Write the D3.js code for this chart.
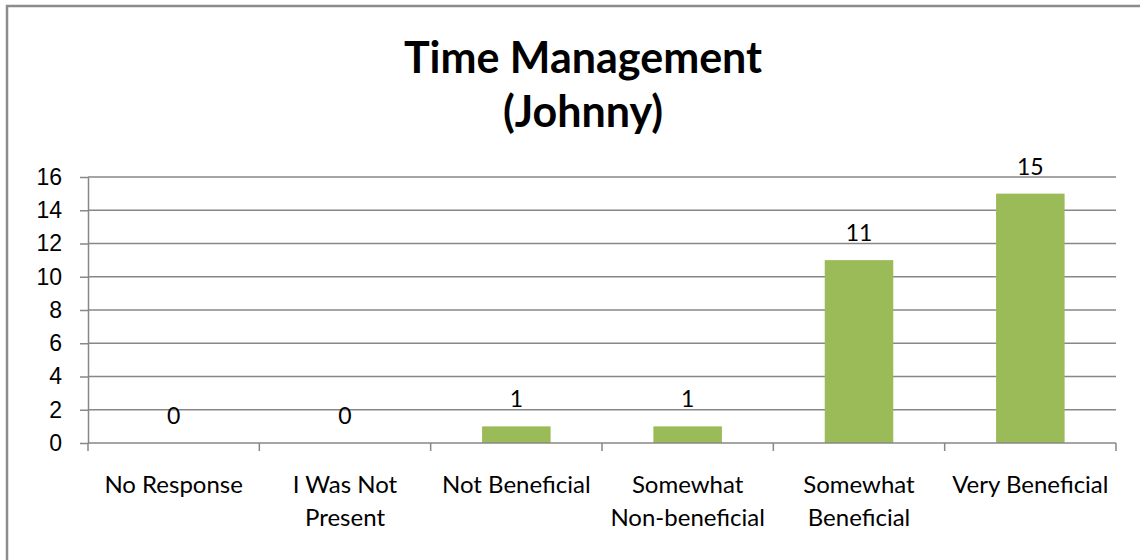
<!DOCTYPE html>
<html lang="en">
<head>
  <meta charset="UTF-8">
  <title>Time Management (Johnny)</title>
  <script src="https://d3js.org/d3.v7.min.js"></script>
  <style>
    body {
      margin: 0;
      background: #fff;
      font-family: Lato, "Noto Sans", sans-serif;
    }
    .grid line {
      stroke: #878787;
      stroke-width: 1.5;
    }
    .axis path, .axis line {
      stroke: #878787;
      stroke-width: 1.5;
    }
    .axis text {
      fill: #000;
    }
    .bar {
      fill: #9bbb59;
    }
  </style>
</head>
<body>
  <svg width="1140" height="560"></svg>

  <script>
    const categories = [
      ["No Response"],
      ["I Was Not", "Present"],
      ["Not Beneficial"],
      ["Somewhat", "Non-beneficial"],
      ["Somewhat", "Beneficial"],
      ["Very Beneficial"]
    ];
    const values = [0, 0, 1, 1, 11, 15];
    const yTicks = [0, 2, 4, 6, 8, 10, 12, 14, 16];
    const titleLines = ["Time Management", "(Johnny)"];

    const svg = d3.select("svg"),
          margin = {top: 177, right: 24, bottom: 117, left: 88},
          width = +svg.attr("width") - margin.left - margin.right,
          height = +svg.attr("height") - margin.top - margin.bottom;

    // outer chart border (only top/left visible, rest cropped)
    svg.append("rect")
      .attr("x", 7).attr("y", 6)
      .attr("width", 1200).attr("height", 600)
      .attr("fill", "none")
      .attr("stroke", "#8c8c8c")
      .attr("stroke-width", 2.5);

    const title = svg.append("text")
      .attr("x", 583)
      .attr("text-anchor", "middle")
      .style("font-family", "Lato, sans-serif")
      .style("font-weight", "bold")
      .style("font-size", "43px");
    titleLines.forEach((t, i) => {
      title.append("tspan").attr("x", 583).attr("y", 73 + i * 54).text(t);
    });

    const chart = svg.append("g").attr("transform", `translate(${margin.left},${margin.top})`);

    const keys = categories.map((c, i) => i);

    const xCat = d3.scaleBand().domain(keys).range([0, width]).padding(0);
    const x = d3.scaleBand().domain(keys).range([0, width])
      .paddingInner(0.6).paddingOuter(0.3);

    const y = d3.scaleLinear().domain([0, 16]).range([height, 0]);

    // horizontal gridlines
    chart.append("g")
      .attr("class", "grid")
      .selectAll("line")
      .data(yTicks.filter(d => d > 0))
      .join("line")
      .attr("x1", 0).attr("x2", width)
      .attr("y1", d => y(d)).attr("y2", d => y(d));

    // y axis
    const yAxis = chart.append("g")
      .attr("class", "axis")
      .call(d3.axisLeft(y).tickValues(yTicks).tickSize(8).tickSizeOuter(0).tickPadding(18));
    yAxis.selectAll("text").style("font-size", "23px");

    // bars
    chart.selectAll(".bar")
      .data(values)
      .join("rect")
      .attr("class", "bar")
      .attr("x", (d, i) => x(i))
      .attr("y", d => y(d))
      .attr("width", x.bandwidth())
      .attr("height", d => height - y(d));

    // value labels
    chart.selectAll(".val")
      .data(values)
      .join("text")
      .attr("class", "val")
      .attr("x", (d, i) => x(i) + x.bandwidth() / 2)
      .attr("y", d => y(d) - 19)
      .attr("text-anchor", "middle")
      .style("font-size", "23px")
      .text(d => d);

    // x axis: line with ticks at category boundaries
    const xAxis = chart.append("g")
      .attr("class", "axis")
      .attr("transform", `translate(0,${height})`);
    xAxis.append("line")
      .attr("x1", 0).attr("x2", width);
    xAxis.selectAll(".tick")
      .data(d3.range(categories.length + 1))
      .join("line")
      .attr("class", "tick")
      .attr("x1", i => i * xCat.step()).attr("x2", i => i * xCat.step())
      .attr("y1", 0).attr("y2", 8);

    // category labels
    const labels = xAxis.selectAll(".cat")
      .data(categories)
      .join("text")
      .attr("class", "cat")
      .attr("text-anchor", "middle")
      .style("font-size", "24px")
      .attr("fill", "#000");
    labels.each(function(lines, i) {
      const t = d3.select(this);
      lines.forEach((l, j) => {
        t.append("tspan")
          .attr("x", xCat(i) + xCat.bandwidth() / 2)
          .attr("y", 50 + j * 33)
          .text(l);
      });
    });
  </script>
</body>
</html>
